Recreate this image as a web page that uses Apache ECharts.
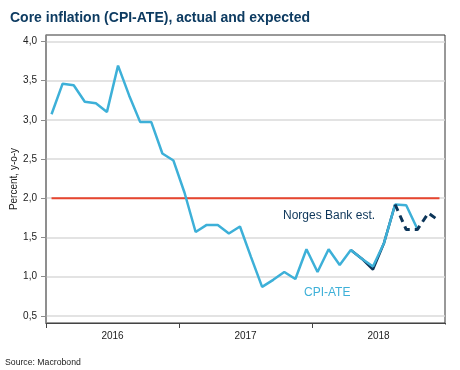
<!DOCTYPE html>
<html>
<head>
<meta charset="utf-8">
<script src="https://cdn.jsdelivr.net/npm/echarts@6/dist/echarts.min.js"></script>
<style>
html,body{margin:0;padding:0;background:#fff;}
#chart{width:460px;height:370px;}
</style>
</head>
<body>
<div id="chart"></div>
<script>
// ---- data ----
const months = [
  '2016-01','2016-02','2016-03','2016-04','2016-05','2016-06','2016-07','2016-08','2016-09','2016-10','2016-11','2016-12',
  '2017-01','2017-02','2017-03','2017-04','2017-05','2017-06','2017-07','2017-08','2017-09','2017-10','2017-11','2017-12',
  '2018-01','2018-02','2018-03','2018-04','2018-05','2018-06','2018-07','2018-08','2018-09','2018-10','2018-11','2018-12'
];
const cpiAte = [
  3.07, 3.46, 3.44, 3.23, 3.21, 3.10, 3.69, 3.31, 2.97, 2.97, 2.57, 2.48,
  2.07, 1.57, 1.66, 1.66, 1.55, 1.64, 1.25, 0.87, 0.96, 1.06, 0.97, 1.35,
  1.06, 1.35, 1.15, 1.34, 1.23, 1.13, 1.43, 1.92, 1.91, 1.61, null, null
];
const normesHist = [
  null, null, null, null, null, null, null, null, null, null, null, null,
  null, null, null, null, null, null, null, null, null, null, null, null,
  null, null, null, 1.34, 1.23, 1.09, 1.43, 1.92, null, null, null, null
];
const normesEst = [
  null, null, null, null, null, null, null, null, null, null, null, null,
  null, null, null, null, null, null, null, null, null, null, null, null,
  null, null, null, null, null, null, null, 1.92, 1.60, 1.60, 1.81, 1.71
];
const target = [
  2.0, 2.0, 2.0, 2.0, 2.0, 2.0, 2.0, 2.0, 2.0, 2.0, 2.0, 2.0,
  2.0, 2.0, 2.0, 2.0, 2.0, 2.0, 2.0, 2.0, 2.0, 2.0, 2.0, 2.0,
  2.0, 2.0, 2.0, 2.0, 2.0, 2.0, 2.0, 2.0, 2.0, 2.0, 2.0, 2.0
];
const yTicks = [0.5, 1.0, 1.5, 2.0, 2.5, 3.0, 3.5, 4.0];

const FONT = 'Liberation Sans, Arial, sans-serif';
const NAVY = '#0c3559';
const LBLUE = '#3db0d8';
const RED = '#e8452f';

const chart = echarts.init(document.getElementById('chart'), null, {renderer: 'canvas'});
chart.setOption({
  animation: false,
  backgroundColor: '#fff',
  textStyle: {fontFamily: FONT},
  title: {
    text: 'Core inflation (CPI-ATE), actual and expected',
    left: 5, top: 6,
    textStyle: {fontFamily: FONT, fontSize: 14, fontWeight: 'bold', color: '#0d3b61'}
  },
  grid: {
    left: 46, right: 15, top: 35, bottom: 47,
    containLabel: false,
    outerBoundsMode: 'none',
    show: true, borderColor: '#333', borderWidth: 1, backgroundColor: 'transparent'
  },
  xAxis: {
    type: 'category',
    data: months,
    boundaryGap: true,
    axisLine: {show: true, lineStyle: {color: '#444', width: 1}},
    axisTick: {show: true, length: 5, interval: (i) => i % 12 === 0, lineStyle: {color: '#444'}},
    axisLabel: {
      interval: (i) => i % 12 === 6,
      formatter: (v) => v.slice(0, 4),
      fontSize: 10, color: '#222', margin: 8,
      padding: [0, 11, 0, 0]
    },
    splitLine: {show: false}
  },
  yAxis: {
    type: 'value',
    min: 0.41, max: 4.08,
    name: 'Percent, y-o-y',
    nameLocation: 'middle',
    nameRotate: 90,
    nameGap: 27,
    nameMoveOverlap: false,
    nameTextStyle: {fontSize: 10, color: '#222', fontFamily: FONT},
    axisLine: {show: true, lineStyle: {color: '#8c8c8c', width: 1.5}},
    axisTick: {show: true, inside: false, length: 5, customValues: yTicks, lineStyle: {color: '#8c8c8c'}},
    axisLabel: {
      customValues: yTicks,
      formatter: (v) => v.toFixed(1).replace('.', ','),
      fontSize: 10, color: '#222', margin: 9
    },
    splitLine: {show: true, lineStyle: {color: '#dadada', width: 1.5}}
  },
  series: [
    {
      name: 'Inflation target', type: 'line', data: target, symbol: 'none',
      lineStyle: {color: RED, width: 2}, silent: true
    },
    {
      name: 'Norges Bank est. (hist)', type: 'line', data: normesHist, symbol: 'none',
      lineStyle: {color: NAVY, width: 2.5}
    },
    {
      name: 'CPI-ATE', type: 'line', data: cpiAte, symbol: 'none',
      lineStyle: {color: LBLUE, width: 2.5}
    },
    {
      name: 'Norges Bank est.', type: 'line', data: normesEst, symbol: 'none',
      lineStyle: {color: NAVY, width: 3, type: [7, 5], cap: 'butt'}
    }
  ],
  graphic: [
    {type: 'rect', z: 100, shape: {x: 442, y: 324.5, width: 8, height: 7}, style: {fill: '#fff'}},
    {type: 'text', x: 283, y: 216, style: {text: 'Norges Bank est.', fill: NAVY, font: '12px ' + FONT, verticalAlign: 'middle'}},
    {type: 'text', x: 304, y: 293, style: {text: 'CPI-ATE', fill: LBLUE, font: '12px ' + FONT, verticalAlign: 'middle'}},
    {type: 'text', x: 5, y: 363, style: {text: 'Source: Macrobond', fill: '#222', font: '8.7px ' + FONT, verticalAlign: 'middle'}}
  ]
});
</script>
</body>
</html>
